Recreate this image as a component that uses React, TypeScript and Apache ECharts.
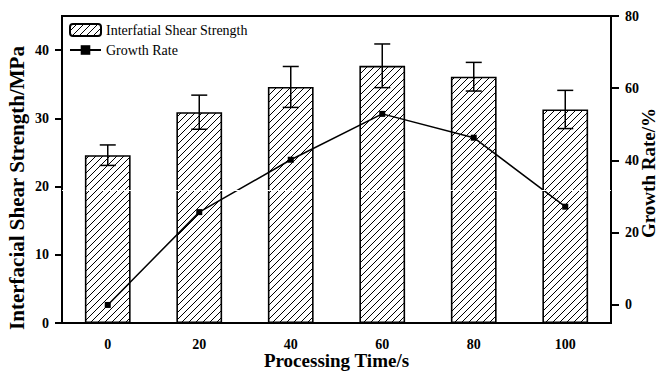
import React, { useEffect, useRef } from 'react';
import * as echarts from 'echarts';

const categories = ['0', '20', '40', '60', '80', '100'];
const strength = [24.6, 30.9, 34.6, 37.7, 36.1, 31.3];
const strengthError = [1.5, 2.5, 3.0, 3.2, 2.1, 2.8];
const growthRate = [0, 25.7, 40.2, 52.9, 46.3, 27.2];
const leftTicks = [0, 10, 20, 30, 40];
const rightTicks = [0, 20, 40, 60, 80];
const artifactLevel = 19.5;

const FONT = "'Times New Roman', 'Liberation Serif', serif";

function makeHatch() {
  const s = 7;
  const c = document.createElement('canvas');
  c.width = s;
  c.height = s;
  const ctx = c.getContext('2d')!;
  ctx.fillStyle = '#fff';
  ctx.fillRect(0, 0, s, s);
  ctx.strokeStyle = '#000';
  ctx.lineWidth = 1;
  ctx.beginPath();
  ctx.moveTo(-1, s + 1);
  ctx.lineTo(s + 1, -1);
  ctx.moveTo(-1, 1);
  ctx.lineTo(1, -1);
  ctx.moveTo(s - 1, s + 1);
  ctx.lineTo(s + 1, s - 1);
  ctx.stroke();
  return c;
}

export default function App() {
  const ref = useRef<HTMLDivElement>(null);
  useEffect(() => {
    if (!ref.current) return;
    const chart = echarts.init(ref.current, undefined, { renderer: 'svg' });
    const hatch = makeHatch();
    const pattern: any = { image: hatch, repeat: 'repeat', imageWidth: 7, imageHeight: 7 };
    const tickLabel = { fontFamily: FONT, fontWeight: 'bold', fontSize: 14, color: '#000' };
    const nameStyle = { fontFamily: FONT, fontWeight: 'bold', fontSize: 20, color: '#000' };
    const errData = categories.map((_, i) => [i, strength[i] - strengthError[i], strength[i] + strengthError[i]]);
    chart.setOption({
      animation: false,
      backgroundColor: '#fff',
      grid: {
        left: 62, right: 52, top: 16, bottom: 49, show: true, borderColor: '#000', borderWidth: 2,
        backgroundColor: 'transparent', containLabel: false, outerBoundsMode: 'none',
      },
      legend: {
        orient: 'vertical', left: 69, top: 23, padding: 0, itemWidth: 31, itemHeight: 12, itemGap: 6,
        data: ['Interfatial Shear Strength', 'Growth Rate'],
        textStyle: { fontFamily: FONT, fontSize: 14, color: '#000' },
      },
      xAxis: {
        type: 'category', data: categories, boundaryGap: true,
        axisLine: { lineStyle: { color: '#000', width: 2 } },
        axisTick: { alignWithLabel: true, length: 7, lineStyle: { color: '#000', width: 2 } },
        axisLabel: { ...tickLabel, margin: 14 },
        name: 'Processing Time/s', nameLocation: 'middle', nameGap: 28, nameMoveOverlap: false,
        nameTextStyle: { ...nameStyle, fontSize: 19 },
      },
      yAxis: [
        {
          type: 'value', min: 0, max: 45, position: 'left',
          axisLine: { show: true, lineStyle: { color: '#000', width: 2 } },
          axisTick: { show: true, length: 7, customValues: leftTicks, lineStyle: { color: '#000', width: 2 } },
          axisLabel: { ...tickLabel, margin: 13, customValues: leftTicks },
          splitLine: { show: false },
          name: 'Interfacial Shear Strength/MPa', nameLocation: 'middle', nameGap: 35, nameRotate: 90,
          nameMoveOverlap: false,
          nameTextStyle: { ...nameStyle, fontSize: 21, padding: [0, 37, 0, 0] },
        },
        {
          type: 'value', min: -5, max: 80, position: 'right',
          axisLine: { show: true, lineStyle: { color: '#000', width: 2 } },
          axisTick: { show: true, length: 8, customValues: rightTicks, lineStyle: { color: '#000', width: 2 } },
          axisLabel: { ...tickLabel, margin: 14, customValues: rightTicks },
          splitLine: { show: false },
          name: 'Growth Rate/%', nameLocation: 'middle', nameGap: 28, nameRotate: 90,
          nameMoveOverlap: false,
          nameTextStyle: { ...nameStyle, fontSize: 19, padding: [0, 7, 0, 0] },
        },
      ],
      series: [
        {
          name: 'Interfatial Shear Strength', type: 'bar', yAxisIndex: 0, data: strength, barWidth: '50%',
          itemStyle: { color: pattern, borderColor: '#000', borderWidth: 1.6 },
          emphasis: { disabled: true },
          markLine: {
            silent: true, symbol: ['none', 'none'], label: { show: false },
            lineStyle: { color: '#fff', type: [9, 3], width: 1.2 },
            data: [{ yAxis: artifactLevel }],
          },
        },
        {
          name: 'errorbars', type: 'custom', yAxisIndex: 0, data: errData, z: 4,
          encode: { x: 0, y: [1, 2] },
          renderItem: (params: any, api: any) => {
            const x = api.value(0);
            const pLo = api.coord([x, api.value(1)]);
            const pHi = api.coord([x, api.value(2)]);
            const half = 8;
            const style = { stroke: '#000', lineWidth: 1.5 };
            return {
              type: 'group',
              children: [
                { type: 'line', shape: { x1: pHi[0], y1: pHi[1], x2: pLo[0], y2: pLo[1] }, style },
                { type: 'line', shape: { x1: pHi[0] - half, y1: pHi[1], x2: pHi[0] + half, y2: pHi[1] }, style },
                { type: 'line', shape: { x1: pLo[0] - half, y1: pLo[1], x2: pLo[0] + half, y2: pLo[1] }, style },
              ],
            };
          },
        },
        {
          name: 'Growth Rate', type: 'line', yAxisIndex: 1, data: growthRate, z: 3,
          symbol: 'rect', symbolSize: 6,
          itemStyle: { color: '#000' },
          lineStyle: { color: '#000', width: 1.5 },
          emphasis: { disabled: true },
        },
      ],
    });
    return () => chart.dispose();
  }, []);
  return <div ref={ref} style={{ position: 'fixed', left: 0, top: 0, width: 663, height: 372 }} />;
}
